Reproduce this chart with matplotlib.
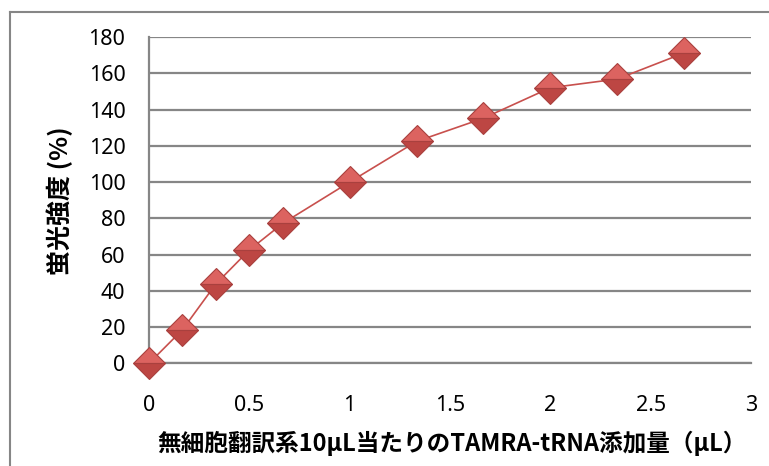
import matplotlib
matplotlib.use("Agg")
import matplotlib.pyplot as plt
from matplotlib.lines import Line2D

# Data
x_values = [0, 1/6, 1/3, 0.5, 2/3, 1.0, 4/3, 5/3, 2.0, 7/3, 8/3]
y_values = [0, 18.5, 43.8, 62.5, 77.2, 100, 122.4, 135.2, 152, 156.8, 171.2]
x_ticks = [0, 0.5, 1, 1.5, 2, 2.5, 3]
x_tick_labels = ["0", "0.5", "1", "1.5", "2", "2.5", "3"]
y_ticks = [0, 20, 40, 60, 80, 100, 120, 140, 160, 180]
y_tick_labels = [str(v) for v in y_ticks]
x_label = "無細胞翻訳系10μL当たりのTAMRA-tRNA添加量（μL）"
y_label = "蛍光強度 (%)"

W, H = 769, 466
fig = plt.figure(figsize=(W / 100, H / 100), dpi=100)
fig.patch.set_facecolor("white")

left, right, top, bottom = 149, 751, 37, 363.3
ax = fig.add_axes([left / W, 1 - bottom / H, (right - left) / W, (bottom - top) / H])

grid_c = "#868686"
ax.set_xlim(0, 3)
ax.set_ylim(0, 180)
ax.set_xticks(x_ticks)
ax.set_xticklabels(x_tick_labels)
ax.set_yticks(y_ticks)
ax.set_yticklabels(y_tick_labels)
ax.tick_params(axis="both", length=0, labelsize=15.5, colors="black")
ax.tick_params(axis="y", pad=17)
ax.tick_params(axis="x", pad=23)
for lab in ax.get_xticklabels() + ax.get_yticklabels():
    lab.set_fontfamily(["Noto Sans", "DejaVu Sans"])

ax.yaxis.grid(True, color=grid_c, lw=1.6)
ax.xaxis.grid(False)
ax.set_axisbelow(True)
for s in ["top", "right"]:
    ax.spines[s].set_visible(False)
for s in ["left", "bottom"]:
    ax.spines[s].set_color(grid_c)
    ax.spines[s].set_linewidth(1.6)

ax.plot(x_values, y_values, color="#c8504d", lw=1.2, zorder=3,
        marker="D", markersize=16, fillstyle="top",
        markerfacecolor="#dc6360", markerfacecoloralt="#bd4643",
        markeredgecolor="#a9403e", markeredgewidth=0.8, clip_on=False)

fontfam = ["Noto Sans CJK JP", "DejaVu Sans"]
fig.text(452 / W, 1 - 443 / H, x_label, ha="center", va="center",
         fontsize=17, fontweight="bold", family=fontfam)
fig.text(60 / W, 1 - 201 / H, y_label, ha="center", va="center", rotation=90,
         fontsize=18, fontweight="bold", family=fontfam)

# chart frame (cropped)
fig.add_artist(Line2D([10 / W, 10 / W], [0, 1 - 12 / H], transform=fig.transFigure,
                      color=grid_c, lw=1.5))
fig.add_artist(Line2D([10 / W, 1], [1 - 12 / H, 1 - 12 / H], transform=fig.transFigure,
                      color=grid_c, lw=1.5))

fig.savefig("out.png", dpi=100)
